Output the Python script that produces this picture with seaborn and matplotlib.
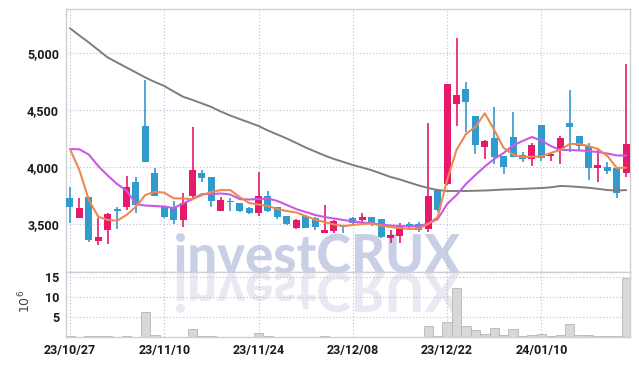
import numpy as np
import pandas as pd
import matplotlib
matplotlib.use("Agg")
import matplotlib.pyplot as plt
import seaborn as sns
from matplotlib.textpath import TextPath
from matplotlib.patches import PathPatch
from matplotlib.font_manager import FontProperties
from matplotlib.transforms import Affine2D, IdentityTransform
from matplotlib.ticker import FuncFormatter

# ---------------- data ----------------
tick_pos = [0, 10, 20, 30, 40, 50]
tick_labels = ['23/10/27', '23/11/10', '23/11/24', '23/12/08', '23/12/22', '24/01/10']

open_ = [3731, 3555, 3737, 3353, 3447, 3631, 3652, 3868, 4361, 3950,
         3645, 3652, 3535, 3746, 3950, 3915, 3616, 3698, 3681, 3643,
         3599, 3746, 3646, 3570, 3462, 3570, 3550, 3418, 3438, 3485,
         3550, 3535, 3558, 3543, 3379, 3394, 3497, 3497, 3453, 3798,
         3848, 4558, 4683, 4449, 4174, 4258, 4097, 4267, 4106, 4068,
         4370, 4100, 4150, 4385, 4273, 4188, 3994, 3997, 3994, 3945]
high = [3827, 3725, 3740, 3550, 3599, 3652, 3924, 3909, 4765, 3994,
        3655, 3704, 3773, 4350, 3974, 3915, 3734, 3731, 3687, 3652,
        3959, 3790, 3652, 3570, 3543, 3580, 3560, 3667, 3535, 3491,
        3565, 3599, 3558, 3543, 3447, 3506, 3520, 3520, 4385, 3804,
        4730, 5132, 4745, 4449, 4238, 4525, 4097, 4487, 4135, 4209,
        4370, 4135, 4273, 4677, 4273, 4209, 4150, 4047, 3994, 4903]
low = [3511, 3550, 3339, 3315, 3324, 3453, 3622, 3599, 4047, 3745,
       3550, 3497, 3470, 3725, 3871, 3646, 3616, 3616, 3607, 3587,
       3570, 3608, 3543, 3491, 3453, 3462, 3450, 3418, 3423, 3418,
       3491, 3520, 3482, 3379, 3330, 3336, 3447, 3432, 3432, 3608,
       3840, 4361, 4309, 4115, 4071, 4027, 3939, 4086, 4047, 4009,
       4053, 4053, 4024, 4135, 4150, 3890, 3871, 3936, 3725, 3915]
close = [3652, 3643, 3358, 3388, 3587, 3616, 3827, 3667, 4047, 3748,
         3560, 3535, 3681, 3974, 3906, 3704, 3710, 3690, 3616, 3599,
         3746, 3614, 3564, 3500, 3535, 3462, 3470, 3447, 3526, 3476,
         3506, 3564, 3511, 3388, 3403, 3476, 3476, 3447, 3746, 3627,
         4730, 4633, 4575, 4194, 4229, 4091, 4003, 4086, 4068, 4194,
         4077, 4112, 4258, 4355, 4188, 3994, 4018, 3968, 3769, 4200]

ma_short = [4159, 3974, 3711, 3564, 3535, 3529, 3579, 3652, 3755, 3783,
            3775, 3725, 3724, 3717, 3754, 3781, 3798, 3798, 3737, 3684,
            3671, 3658, 3631, 3614, 3601, 3570, 3539, 3517, 3495, 3482,
            3491, 3500, 3504, 3486, 3473, 3464, 3456, 3460, 3500, 3561,
            3886, 4150, 4291, 4352, 4473, 4326, 4168, 4110, 4088, 4091,
            4093, 4124, 4150, 4203, 4203, 4185, 4159, 4097, 3992, 3994]
ma_mid = [4159, 4156, 4110, 4009, 3926, 3851, 3794, 3675, 3662, 3658,
          3653, 3640, 3680, 3719, 3763, 3763, 3768, 3759, 3719, 3715,
          3719, 3724, 3702, 3667, 3631, 3605, 3579, 3561, 3548, 3535,
          3522, 3513, 3506, 3495, 3486, 3482, 3479, 3482, 3504, 3543,
          3675, 3754, 3851, 3930, 4005, 4071, 4124, 4190, 4229, 4264,
          4233, 4185, 4150, 4150, 4146, 4141, 4132, 4119, 4102, 4102]
ma_long = [5220, 5156, 5095, 5029, 4963, 4919, 4875, 4831, 4787, 4748,
           4713, 4664, 4618, 4590, 4559, 4528, 4488, 4453, 4422, 4392,
           4361, 4321, 4286, 4251, 4212, 4172, 4137, 4102, 4071, 4045,
           4018, 3996, 3972, 3943, 3913, 3891, 3864, 3838, 3816, 3798,
           3790, 3790, 3790, 3792, 3794, 3798, 3803, 3805, 3809, 3812,
           3816, 3822, 3834, 3831, 3825, 3818, 3809, 3798, 3794, 3798]

volume_m = [0.2, 0.05, 0.2, 0.2, 0.2, 0.05, 0.2, 0.05, 6.25, 0.5,
            0.15, 0.15, 0.15, 2.1, 0.2, 0.2, 0.05, 0.05, 0.05, 0.05,
            1.0, 0.2, 0.05, 0.05, 0.05, 0.05, 0.05, 0.2, 0.05, 0.05,
            0.05, 0.05, 0.05, 0.05, 0.05, 0.05, 0.05, 0.05, 2.8, 0.3,
            3.75, 12.25, 2.8, 1.8, 0.8, 2.25, 0.6, 2.0, 0.2, 0.5,
            0.8, 0.3, 0.6, 3.3, 0.6, 0.5, 0.2, 0.2, 0.2, 14.75]

# ---------------- style ----------------
sns.set_theme(style="white")
plt.rcParams['font.family'] = ['Roboto', 'DejaVu Sans']

UP = '#E6196A'
DOWN = '#329BCD'
GRID = '#b9bdd6'
SPINE = '#cfcfd6'

df = pd.DataFrame({'idx': np.arange(len(close)), 'open': open_, 'high': high,
                   'low': low, 'close': close, 'ma_s': ma_short, 'ma_m': ma_mid,
                   'ma_l': ma_long, 'vol': volume_m})

W, H = 639, 366
fig = plt.figure(figsize=(W / 100, H / 100), dpi=100)
ax = fig.add_axes([66 / W, (H - 272) / H, 564 / W, 263 / H])
axv = fig.add_axes([66 / W, (H - 337.3) / H, 564 / W, 65.3 / H])
for a in (ax, axv):
    a.set_facecolor('white')

# ---------------- watermark ----------------
fp = FontProperties(family=['Lato', 'Roboto', 'DejaVu Sans'], weight='black')
tp = TextPath((0, 0), 'investCRUX', size=100, prop=fp)
ext = tp.get_extents()
x0, x1 = 176, 460
yb, yt = H - 273, H - 233
sx = (x1 - x0) / ext.width
sy = (yt - yb) / ext.y1
tr1 = Affine2D().translate(-ext.x0, 0).scale(sx, sy).translate(x0, yb)
tr2 = Affine2D().translate(-ext.x0, 0).scale(sx, -sy).translate(x0, yb)
ax.add_patch(PathPatch(tr1.transform_path(tp), transform=IdentityTransform(),
                       fc='#c9d0e6', ec='none', zorder=0.5))
axv.add_patch(PathPatch(tr2.transform_path(tp), transform=IdentityTransform(),
                        fc='#e8e9f2', ec='none', zorder=0.5))

# ---------------- candles ----------------
o = df['open'].to_numpy(); c = df['close'].to_numpy()
cols = np.where(c >= o, UP, DOWN)
ax.vlines(df['idx'], df['low'], df['high'], colors=cols, lw=1.2, zorder=2)
body = np.maximum(np.abs(c - o), 12)
bottom = np.minimum(o, c)
ax.bar(df['idx'], body, bottom=bottom, width=0.74, color=cols, edgecolor='none', zorder=3)

# moving averages
sns.lineplot(data=df, x='idx', y='ma_l', color='#7d7d7d', lw=1.4, ax=ax, zorder=4)
sns.lineplot(data=df, x='idx', y='ma_m', color='#c95ae6', lw=1.5, ax=ax, zorder=4)
sns.lineplot(data=df, x='idx', y='ma_s', color='#ef8850', lw=1.5, ax=ax, zorder=5)

# ---------------- volume ----------------
sns.barplot(data=df, x='idx', y='vol', native_scale=True, color='#d8d8d8',
            edgecolor='#b5b5b5', linewidth=0.6, width=1.0, errorbar=None,
            saturation=1, ax=axv, zorder=2)

# ---------------- axes ----------------
xl = (-0.42, 59.4)
ax.set_xlim(*xl)
axv.set_xlim(*xl)
ax.set_ylim(3078, 5389)
axv.set_ylim(0, 16.3)

ax.set_yticks([3500, 4000, 4500, 5000])
ax.yaxis.set_major_formatter(FuncFormatter(lambda v, p: f'{v:,.0f}'))
ax.set_xticks(tick_pos)
ax.set_xticklabels([])
axv.set_yticks([5, 10, 15])
axv.set_xticks(tick_pos)
axv.set_xticklabels(tick_labels)

for a in (ax, axv):
    a.set_xlabel('')
    a.set_ylabel('')
    a.grid(True, color=GRID, linestyle=(0, (1, 2)), lw=0.8)
    a.set_axisbelow(True)
    a.tick_params(length=0, labelsize=9, colors='#1a1a1a', pad=5)
    for lab in a.get_xticklabels() + a.get_yticklabels():
        lab.set_fontweight('bold')
    for s in a.spines.values():
        s.set_color(SPINE)
        s.set_linewidth(1.0)

axv.set_ylabel(r'$10^6$', fontsize=9, color='#444444', rotation=90)
axv.yaxis.set_label_coords(-0.058, 0.55)

fig.savefig('out.png', dpi=100)
